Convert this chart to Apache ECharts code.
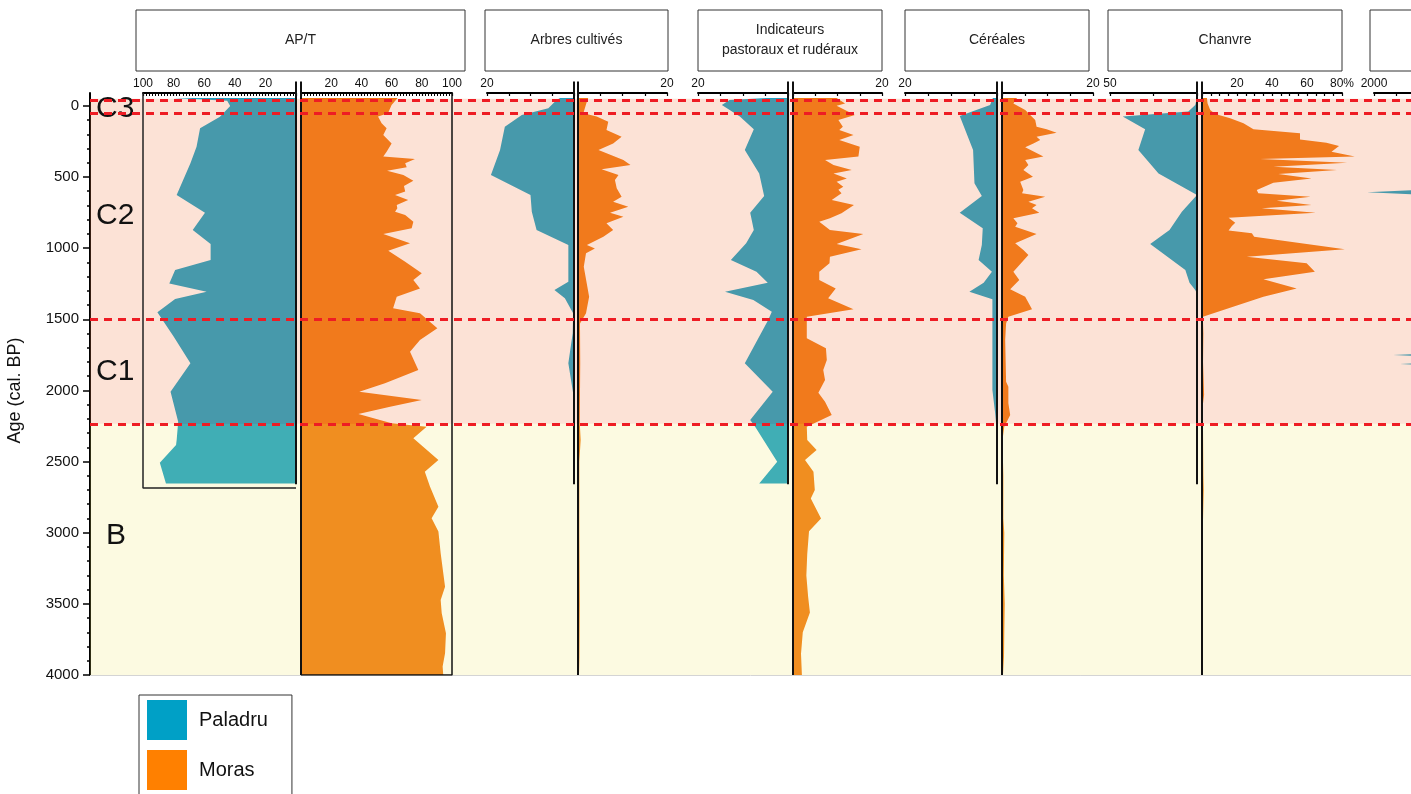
<!DOCTYPE html>
<html><head><meta charset="utf-8">
<script src="https://cdn.jsdelivr.net/npm/echarts@6/dist/echarts.min.js"></script>
<style>html,body{margin:0;padding:0;background:#fff}#c{width:1411px;height:794px}</style>
</head><body><div id="c"></div>
<script>
// ---------- DATA (pairs are [age cal. BP, value]) ----------
const panelTitles = ['AP/T', 'Arbres cultivés', 'Indicateurs\npastoraux et rudéraux', 'Céréales', 'Chanvre', ''];
const zoneNames = ['C3', 'C2', 'C1', 'B'];
const zoneBounds = [-50, 55, 1497, 2235, 4000];
const dashedAges = [-40, 55, 1497, 2235];
const legendNames = ['Paladru', 'Moras'];

const aptPaladru = [[-55,80],[-35,45],[1,43],[77,49.7],[158,62.7],[287,65],[404,69],[627,78],[751,59.5],[873,67.5],[971,55.8],[1084,55.8],[1154,79],[1248,82.8],[1306,58.4],[1358,79],[1451,90.6],[1622,80],[1810,69],[2009,82],[2220,77],[2348,78],[2383,78.4],[2508,89],[2655,85]];
const aptMoras = [[-55,64],[-6,60],[53,57.6],[76,51],[123,53.4],[158,56.7],[205,54.5],[264,60],[322,56.7],[357,54.5],[374,75.5],[404,69],[432,70],[456,57],[486,67.8],[526,74.4],[564,68.2],[603,69],[627,62.3],[662,71],[697,63.4],[720,63.8],[744,62.3],[767,69],[814,74.4],[861,73.3],[901,54.5],[966,72.2],[1018,57.8],[1095,69],[1177,80],[1224,74.4],[1283,78.8],[1341,63.4],[1423,61],[1458,78.8],[1564,90.3],[1646,78.8],[1728,72.2],[1857,77.7],[1950,55.6],[2009,38.6],[2067,80],[2114,59],[2166,38],[2231,60],[2255,83.2],[2337,74.4],[2489,91],[2571,82],[2676,85.4],[2817,91],[2899,86.5],[2992,91],[3145,92.5],[3379,95.4],[3473,92.5],[3566,93.2],[3707,96],[3847,95.4],[3941,93.8],[4000,94.2]];

const arbPaladru = [[-55,3.2],[-40,4],[18,5.9],[65,12],[147,15.9],[311,17],[486,19.1],[627,10],[744,9.7],[873,8.6],[978,1.3],[1236,1.3],[1294,4.5],[1353,2.1],[1458,0.2],[1599,0.3],[1810,1.3],[2020,0.2],[2655,0.1]];
const arbMoras = [[-55,2.3],[-30,2],[53,1.2],[76,4.2],[112,6.8],[170,6.4],[217,9.8],[264,7.9],[311,4.6],[381,10.2],[416,11.8],[446,5.3],[486,9.1],[521,8.3],[580,8.7],[639,9.8],[674,7.9],[709,11.3],[751,7.2],[779,10.2],[826,6.4],[873,7.9],[920,5.7],[978,2],[1002,3.8],[1037,1.8],[1131,1.3],[1341,2.5],[1458,1.8],[1529,0.45],[1810,0.5],[2231,0.4],[2348,0.6],[2500,0.3],[3000,0.3],[3500,0.4],[4000,0.3]];

const indPaladru = [[-55,4.7],[-40,13],[-6,14.7],[76,10.7],[165,7.6],[311,9.6],[475,6.4],[634,5.3],[751,8.4],[873,7.6],[966,9.3],[1084,12.7],[1166,7],[1243,4.5],[1306,14],[1365,7.7],[1447,3.6],[1505,4.4],[1810,9.6],[2009,3.4],[2208,8.4],[2255,7.3],[2501,2.4],[2655,6.4]];
const indMoras = [[-55,9.8],[-17,11.7],[0,9.8],[65,13.9],[100,10.2],[147,11.2],[170,10.4],[205,13.6],[240,10.4],[287,15],[357,14.7],[381,7.2],[416,9.1],[451,13.2],[475,9.1],[510,12.1],[533,9.8],[568,11.3],[590,10.2],[615,10.9],[662,8.7],[697,13.7],[755,10.9],[790,8.3],[814,5.9],[873,8.3],[901,15.8],[971,9.8],[1008,15.4],[1060,8.3],[1107,8.2],[1166,5.9],[1224,5.9],[1283,9.6],[1353,7.9],[1430,13.6],[1482,3.1],[1634,3.1],[1704,7.4],[1786,7.6],[1857,6.8],[1927,7.2],[2016,5.7],[2079,7.2],[2173,8.7],[2255,3.1],[2348,3.2],[2419,5.3],[2489,2.7],[2571,4.6],[2700,4.9],[2760,4.0],[2900,6.3],[2990,3.6],[3150,3.2],[3300,3.0],[3450,3.4],[3560,3.8],[3700,2.2],[3850,1.8],[4000,2.0]];

const cerPaladru = [[-55,0.9],[-6,1.5],[72,8.1],[311,5.2],[545,4.9],[634,3.3],[751,8.1],[861,3.1],[978,3.3],[1084,4],[1166,1.1],[1243,2.9],[1306,6],[1360,1],[1997,1],[2161,0.4],[2250,0.15],[2655,0.15]];
const cerMoras = [[-55,3.3],[-17,2.5],[30,5.1],[100,7.3],[147,7.6],[165,9.8],[189,12],[217,7.6],[240,8.4],[264,6.9],[292,5.1],[357,9.1],[381,5.1],[416,5.8],[451,4.7],[498,6.8],[533,4],[592,4.7],[615,4.4],[639,9.5],[674,5.8],[697,7.6],[720,6.6],[751,8.2],[790,2.5],[826,3.4],[850,2.9],[901,7.6],[966,2.9],[1013,4.7],[1048,5.8],[1166,2.5],[1224,3.8],[1290,1.8],[1341,5.1],[1430,6.6],[1482,1.4],[1529,0.9],[1646,0.7],[1939,0.9],[1974,1.4],[2091,1.4],[2173,1.8],[2255,0.5],[2350,0.1],[2600,0.3],[2900,0.3],[3000,0.5],[3300,0.4],[3500,0.6],[3700,0.5],[4000,0.4]];

const chaPaladru = [[-55,0],[-6,1],[40,5],[76,42.7],[165,29.8],[311,33.7],[475,22.1],[627,0],[744,8.7],[873,15.8],[971,26.9],[1154,6.7],[1243,4.3],[1294,1],[1320,0],[2660,0]];
const chaMoras = [[-55,2.8],[-17,3.2],[30,4.7],[58,7.6],[88,16.1],[123,23.7],[165,29.4],[193,56],[236,56],[259,71.1],[283,78.3],[322,74],[357,87.3],[374,33.2],[400,82.9],[428,40.8],[451,77.2],[479,43.6],[510,62.6],[540,40.8],[592,31.3],[615,32.2],[639,62],[667,42.7],[697,62.6],[720,34.1],[751,65],[786,15.2],[821,19],[845,17.1],[877,15.2],[896,28.5],[920,29.8],[1008,81.6],[1060,25.6],[1107,59.8],[1166,64.5],[1219,35.1],[1283,54.1],[1341,35.1],[1482,0.5],[1600,0.8],[1800,0.6],[2030,1.2],[2100,0.5],[2300,0.6],[2600,0.8],[2700,1.0],[3000,0.4],[4000,0.4]];

const p6Paladru = [[-55,0],[580,150],[608,2160],[636,150],[1735,150],[1751,1560],[1767,150],[1800,150],[1814,1400],[1830,150],[2655,0]];

// ---------- LAYOUT / STYLE ----------
const FONT = '"Liberation Sans", Arial, Helvetica, sans-serif';
const TEAL = '#14a0c8', ORANGE = '#f1780e';
const Y0PX = 105.81, Y4000PX = 675, K = (Y4000PX - Y0PX) / 4000;
const YMIN = -90, YMAX = 4000, BOTTOM = 794 - Y4000PX;
const PMIN = -170;                       // panel grids start higher so zero lines can rise above the axes
const TOP = Y0PX + YMIN * K;             // 93
const PTOP = Y0PX + PMIN * K;            // ~81.6
const PAL_END = 2660, MOR_END = 4000;

const f20 = v => v === 20 ? '20' : '';
const sides = [
  {left:143, width:153, max:100, interval:20, minor:10, inv:true,  data:aptPaladru, who:0, fmt:v => v === 0 ? '' : String(v)},
  {left:301, width:151, max:100, interval:20, minor:10, inv:false, data:aptMoras,   who:1, fmt:v => v === 0 ? '' : String(v)},
  {left:487, width:87,  max:20, interval:5, inv:true,  data:arbPaladru, who:0, fmt:f20},
  {left:578, width:89,  max:20, interval:5, inv:false, data:arbMoras,   who:1, fmt:f20},
  {left:698, width:90,  max:20, interval:5, inv:true,  data:indPaladru, who:0, fmt:f20},
  {left:793, width:89,  max:20, interval:5, inv:false, data:indMoras,   who:1, fmt:f20},
  {left:905, width:92,  max:20, interval:5, inv:true,  data:cerPaladru, who:0, fmt:f20},
  {left:1002, width:91, max:20, interval:5, inv:false, data:cerMoras,   who:1, fmt:f20},
  {left:1110, width:87, max:50, interval:25, inv:true, data:chaPaladru, who:0, fmt:v => v === 50 ? '50' : ''},
  {left:1202, width:140, max:80, interval:5, inv:false, data:chaMoras,  who:1, fmt:v => (v > 0 && v % 20 === 0) ? (v === 80 ? '80%' : String(v)) : ''},
  {left:1374, width:87, max:2000, interval:500, inv:true, data:p6Paladru, who:0, fmt:v => v === 2000 ? '2000' : ''}
];
const headers = [[136,329],[485,183],[698,184],[905,184],[1108,234],[1370,200]];

const grids = [
  {left:90, right:0, top:TOP, bottom:BOTTOM, outerBoundsMode:'none', containLabel:false},
  {left:90, right:0, top:Y0PX, bottom:BOTTOM, outerBoundsMode:'none', containLabel:false}
];
const xAxes = [
  {gridIndex:0, type:'value', min:0, max:1, position:'bottom', axisLine:{show:true, onZero:false, lineStyle:{color:'#d4d4d4', width:1}}, axisTick:{show:false}, axisLabel:{show:false}, splitLine:{show:false}},
  {gridIndex:1, type:'value', min:0, max:1, show:false}
];
const yAxes = [
  {gridIndex:0, type:'value', min:YMIN, max:YMAX, inverse:true, axisLine:{show:true, onZero:false, lineStyle:{color:'#000', width:2}}, axisTick:{show:false}, axisLabel:{show:false}, splitLine:{show:false}},
  {gridIndex:1, type:'value', min:0, max:YMAX, interval:500, inverse:true, axisLine:{show:false, onZero:false},
   axisTick:{show:true, length:7, lineStyle:{color:'#000', width:1.5}},
   minorTick:{show:true, splitNumber:5, length:3, lineStyle:{color:'#000', width:1.5}},
   axisLabel:{fontSize:15, color:'#111', margin:11, fontFamily:FONT, formatter:v => String(v)},
   splitLine:{show:false},
   name:'Age (cal. BP)', nameLocation:'middle', nameGap:66, nameTextStyle:{fontSize:18, color:'#111', fontFamily:FONT}}
];
const series = [];

sides.forEach((s, i) => {
  const gi = i + 2;
  grids.push({left:s.left, width:s.width, top:PTOP, bottom:BOTTOM, outerBoundsMode:'none', containLabel:false});
  xAxes.push({gridIndex:gi, type:'value', position:'top', offset:-(TOP - PTOP), min:0, max:s.max, interval:s.interval, inverse:s.inv,
    axisLine:{show:true, onZero:false, lineStyle:{color:'#000', width:2}},
    axisTick:{show:true, inside:true, length:3, lineStyle:{color:'#000', width:1.2}},
    minorTick:{show:!!s.minor, splitNumber:s.minor || 5, length:3, lineStyle:{color:'#000', width:1}},
    axisLabel:{show:true, fontSize:12, color:'#111', margin:3, fontFamily:FONT, formatter:s.fmt},
    splitLine:{show:false}});
  yAxes.push({gridIndex:gi, type:'time', min:PMIN, max:YMAX, inverse:true, show:false});
  const col = s.who === 0 ? TEAL : ORANGE;
  series.push({type:'line', name:legendNames[s.who], xAxisIndex:gi, yAxisIndex:gi,
    data:s.data.map(d => [d[1], d[0]]), symbol:'none', showSymbol:false,
    lineStyle:{opacity:0, width:0}, itemStyle:{color:col}, areaStyle:{color:col, opacity:1, origin:'auto'},
    z:2, silent:true, animation:false, clip:false});
  const end = s.who === 0 ? PAL_END : MOR_END;
  series.push({type:'line', name:'zero' + i, xAxisIndex:gi, yAxisIndex:gi,
    data:[[0, PMIN], [0, end]], symbol:'none', lineStyle:{color:'#111', width:2},
    z:5, silent:true, animation:false, clip:false});
  if (i === 0) {
    series.push({type:'line', name:'box0', xAxisIndex:gi, yAxisIndex:gi,
      data:[[0, 2686], [100, 2686], [100, YMIN]], symbol:'none', lineStyle:{color:'#222', width:1.5},
      z:5, silent:true, animation:false, clip:false});
  }
  if (i === 1) {
    series.push({type:'line', name:'box1', xAxisIndex:gi, yAxisIndex:gi,
      data:[[0, YMAX], [100, YMAX], [100, YMIN]], symbol:'none', lineStyle:{color:'#111', width:1.5},
      z:5, silent:true, animation:false, clip:false});
  }
});

// zones overlay + labels
const zoneAreas = [
  [{yAxis:zoneBounds[0], itemStyle:{color:'rgba(243,130,78,0.23)'}, label:{show:false}}, {yAxis:zoneBounds[3]}],
  [{yAxis:zoneBounds[3], itemStyle:{color:'rgba(240,230,105,0.2)'}, label:{show:false}}, {yAxis:zoneBounds[4]}]
];
zoneNames.forEach((n, i) => {
  zoneAreas.push([{yAxis:zoneBounds[i], name:n, itemStyle:{color:'rgba(0,0,0,0)'},
    label:{show:true, position:'insideLeft', distance:6, fontSize:30, color:'#111', fontFamily:FONT,
      offset: n === 'B' ? [10, -14] : (n === 'C3' ? [0, 3] : [0, 0])}}, {yAxis:zoneBounds[i + 1]}]);
});
series.push({type:'line', name:'zones', xAxisIndex:0, yAxisIndex:0, data:[[0.5, YMAX]], symbol:'none',
  lineStyle:{opacity:0}, z:4, silent:true, animation:false,
  markArea:{silent:true, z:4, animation:false, data:zoneAreas}});
series.push({type:'line', name:'dashes', xAxisIndex:0, yAxisIndex:0, data:[[0.5, YMAX]], symbol:'none',
  lineStyle:{opacity:0}, z:6, silent:true, animation:false,
  markLine:{silent:true, z:6, animation:false, symbol:['none','none'], label:{show:false},
    lineStyle:{color:'#ee1c24', width:3, type:[8,6]},
    data:dashedAges.map(a => ({yAxis:a}))}});

const graphics = headers.map((h, i) => ({
  type:'group', x:h[0], y:10, silent:true,
  children:[
    {type:'rect', shape:{x:0, y:0, width:h[1], height:61}, style:{fill:'#fff', stroke:'#333', lineWidth:1}},
    {type:'text', style:{text:panelTitles[i], x:h[1] / 2, y:30.5, align:'center', verticalAlign:'middle',
      font:'14px ' + FONT, fill:'#222', lineHeight:20}}
  ]
}));

const chart = echarts.init(document.getElementById('c'), null, {renderer:'canvas'});
chart.setOption({
  animation:false,
  backgroundColor:'#fff',
  textStyle:{fontFamily:FONT},
  grid:grids, xAxis:xAxes, yAxis:yAxes, series:series, graphic:graphics,
  legend:{
    data:[{name:legendNames[0], itemStyle:{color:'#00a0c6'}}, {name:legendNames[1], itemStyle:{color:'#ff8000'}}],
    orient:'vertical', left:139, top:695, height:140, icon:'rect', itemWidth:40, itemHeight:40, itemGap:10,
    padding:[5, 24, 5, 8], borderColor:'#333', borderWidth:1, selectedMode:false,
    textStyle:{fontSize:20, color:'#111', fontFamily:FONT, padding:[0, 0, 0, 7]}
  }
});
</script></body></html>
